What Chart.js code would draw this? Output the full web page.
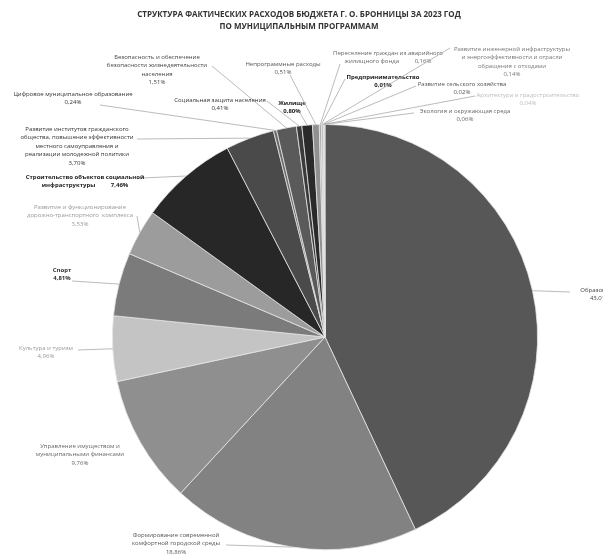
<!DOCTYPE html>
<html>
<head>
<meta charset="utf-8">
<script src="https://cdn.jsdelivr.net/npm/chart.js@4"></script>
<style>
  html, body { margin: 0; padding: 0; background: #fff; }
  #wrap { width: 603px; height: 554px; }
</style>
</head>
<body>
<div id="wrap"><canvas id="budgetPie" width="603" height="554"></canvas></div>
<script>
// Structure of actual budget spending, by municipal programme (% of total)
const titleLines = [
    'СТРУКТУРА ФАКТИЧЕСКИХ РАСХОДОВ БЮДЖЕТА Г. О. БРОННИЦЫ ЗА 2023 ГОД',
    'ПО МУНИЦИПАЛЬНЫМ ПРОГРАММАМ'
];

const programmes = [
    'Образование',
    'Формирование современной комфортной городской среды',
    'Управление имуществом и муниципальными финансами',
    'Культура и туризм',
    'Спорт',
    'Развитие и функционирование дорожно-транспортного комплекса',
    'Строительство объектов социальной инфраструктуры',
    'Развитие институтов гражданского общества, повышение эффективности местного самоуправления и реализации молодежной политики',
    'Цифровое муниципальное образование',
    'Безопасность и обеспечение безопасности жизнедеятельности населения',
    'Социальная защита населения',
    'Жилище',
    'Непрограммные расходы',
    'Переселение граждан из аварийного жилищного фонда',
    'Предпринимательство',
    'Развитие инженерной инфраструктуры и энергоэффективности и отрасли обращения с отходами',
    'Развитие сельского хозяйства',
    'Архитектура и градостроительство',
    'Экология и окружающая среда'
];

const shares = [43.01, 18.86, 9.76, 4.96, 4.81, 3.53, 7.46, 3.70, 0.24, 1.51,
                0.41, 0.80, 0.51, 0.16, 0.01, 0.14, 0.02, 0.04, 0.06];

// how each label is broken into lines on the picture
const labelLines = [
    ['Образование'],
    ['Формирование современной', 'комфортной городской среды'],
    ['Управление имуществом и', 'муниципальными финансами'],
    ['Культура и туризм'],
    ['Спорт'],
    ['Развитие и функционирование', 'дорожно-транспортного  комплекса'],
    ['Строительство объектов социальной', 'инфраструктуры'],
    ['Развитие институтов гражданского', 'общества, повышение эффективности', 'местного самоуправления и', 'реализации молодежной политики'],
    ['Цифровое муниципальное образование'],
    ['Безопасность и обеспечение', 'безопасности жизнедеятельности', 'населения'],
    ['Социальная защита населения'],
    ['Жилище'],
    ['Непрограммные расходы'],
    ['Переселение граждан из аварийного', 'жилищного фонда'],
    ['Предпринимательство'],
    ['Развитие инженерной инфраструктуры', 'и энергоэффективности и отрасли', 'обращения с отходами'],
    ['Развитие сельского хозяйства'],
    ['Архитектура и градостроительство'],
    ['Экология и окружающая среда']
];

const sliceColors = ['#575757', '#828282', '#8f8f8f', '#c4c4c4', '#7b7b7b', '#9c9c9c',
                     '#272727', '#4a4a4a', '#6a6a6a', '#5a5a5a', '#3a3a3a', '#2a2a2a',
                     '#909090', '#aaaaaa', '#444444', '#bbbbbb', '#999999', '#cccccc', '#b5b5b5'];

// label layout: text block centre x, first line y, leader end point, style
const labelX = [600, 176, 80, 46, 62, 80, 85, 77, 73, 157, 220, 292, 283, 388, 383, 512, 462, 528, 465];
const labelY = [290, 535, 446, 348, 270, 207, 177, 129, 94, 57, 100, 103, 64, 53, 77, 49, 84, 95, 111];
const lineEnd = [[570, 292], [226, 545], null, [78, 350], [72, 281], [137, 216], [142, 178], [137, 139],
                 [100, 105], [212, 66], [267, 101], [300, 113], [290, 75], [340, 64], [345, 79],
                 [450, 48], [416, 86], [475, 96], [414, 113]];
const labelColor = ['#444', '#555', '#666', '#999', '#333', '#999', '#222', '#333', '#333', '#444',
                    '#333', '#222', '#555', '#666', '#222', '#777', '#555', '#bbb', '#666'];
const labelBold = [false, false, false, false, true, false, true, false, false, false,
                   false, true, false, false, true, false, false, false, false];

function pct(v) {
    return v.toFixed(2).replace('.', ',') + '%';
}

const labelPlugin = {
    id: 'leaderLabels',
    afterDatasetsDraw(chart) {
        const ctx = chart.ctx;
        const arcs = chart.getDatasetMeta(0).data;
        ctx.save();
        // title
        ctx.fillStyle = '#333';
        ctx.textAlign = 'center';
        ctx.textBaseline = 'middle';
        ctx.font = 'bold 8px "Open Sans", sans-serif';
        titleLines.forEach((t, k) => ctx.fillText(t, 299, 15 + k * 12));

        arcs.forEach((arc, i) => {
            const p = arc.getProps(['x', 'y', 'startAngle', 'endAngle', 'outerRadius'], true);
            const mid = (p.startAngle + p.endAngle) / 2;
            const ex = p.x + Math.cos(mid) * p.outerRadius;
            const ey = p.y + Math.sin(mid) * p.outerRadius;
            if (lineEnd[i]) {
                ctx.strokeStyle = '#aaa';
                ctx.lineWidth = 0.8;
                ctx.beginPath();
                ctx.moveTo(ex, ey);
                ctx.lineTo(lineEnd[i][0], lineEnd[i][1]);
                ctx.stroke();
            }
            const lines = labelLines[i].slice();
            // the value goes on its own line, except a few that share the last text line
            if (i === 6 || i === 13) {
                lines[lines.length - 1] += '          ' + pct(shares[i]);
            } else {
                lines.push(pct(shares[i]));
            }
            ctx.fillStyle = labelColor[i];
            ctx.font = (labelBold[i] ? 'bold ' : '') + '6px "Open Sans", sans-serif';
            lines.forEach((t, k) => ctx.fillText(t, labelX[i], labelY[i] + k * 8.5));
        });
        ctx.restore();
    }
};

new Chart(document.getElementById('budgetPie'), {
    type: 'pie',
    data: {
        labels: programmes,
        datasets: [{
            data: shares,
            backgroundColor: sliceColors,
            borderColor: '#e4e4e4',
            borderWidth: 0.8
        }]
    },
    options: {
        responsive: false,
        animation: false,
        layout: { padding: { left: 112, right: 65, top: 124, bottom: 4 } },
        plugins: {
            legend: { display: false },
            tooltip: { enabled: false },
            title: { display: false }
        }
    },
    plugins: [labelPlugin]
});
</script>
</body>
</html>
